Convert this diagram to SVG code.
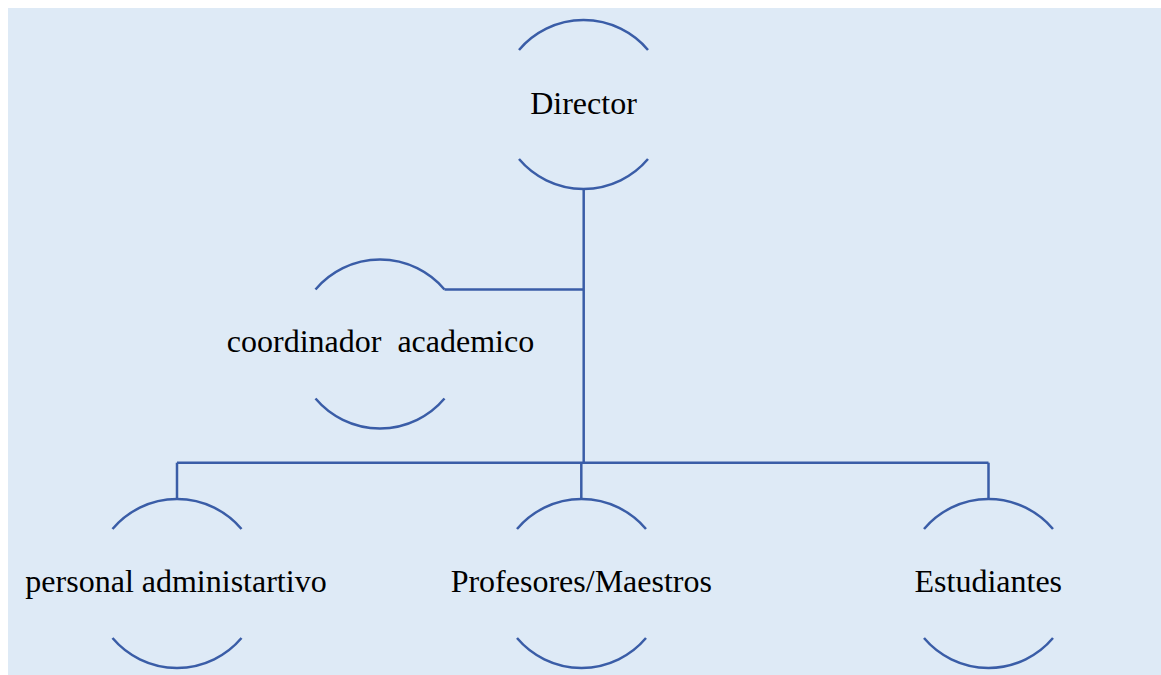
<svg xmlns="http://www.w3.org/2000/svg" width="1161" height="675" viewBox="0 0 1161 675">
<style>
.arc{fill:none;stroke:#3A5DA7;stroke-width:2.5}
.conn{fill:none;stroke:#3A5DA7;stroke-width:2.5}
.lbl{font-family:"Liberation Serif","Times New Roman",serif;font-size:32px;fill:#000;text-anchor:middle}
</style>
<rect x="8" y="8" width="1153" height="667" fill="#DEEAF6"/>
<g id="connectors">
<path class="conn" d="M583.7 189 V462.7"/>
<path class="conn" d="M444.5 289.5 H583.7"/>
<path class="conn" d="M177 462.7 H988.5"/>
<path class="conn" d="M177 462.7 V499"/>
<path class="conn" d="M581.3 462.7 V499"/>
<path class="conn" d="M988.5 462.7 V499"/>
</g>
<g id="director">
<path class="arc" d="M519 50 A84.5 84.5 0 0 1 648 50"/>
<path class="arc" d="M519 159 A84.5 84.5 0 0 0 648 159"/>
<text class="lbl" x="583.5" y="114">Director</text>
</g>
<g id="coordinador">
<path class="arc" d="M315.5 289.5 A84.5 84.5 0 0 1 444.5 289.5"/>
<path class="arc" d="M315.5 398.5 A84.5 84.5 0 0 0 444.5 398.5"/>
<text class="lbl" x="380.5" y="352" xml:space="preserve">coordinador  academico</text>
</g>
<g id="personal">
<path class="arc" d="M112.5 529 A84.5 84.5 0 0 1 241.5 529"/>
<path class="arc" d="M112.5 638 A84.5 84.5 0 0 0 241.5 638"/>
<text class="lbl" x="176" y="592">personal administartivo</text>
</g>
<g id="profesores">
<path class="arc" d="M517 529 A84.5 84.5 0 0 1 646 529"/>
<path class="arc" d="M517 638 A84.5 84.5 0 0 0 646 638"/>
<text class="lbl" x="581.3" y="592">Profesores/Maestros</text>
</g>
<g id="estudiantes">
<path class="arc" d="M924 529 A84.5 84.5 0 0 1 1053 529"/>
<path class="arc" d="M924 638 A84.5 84.5 0 0 0 1053 638"/>
<text class="lbl" x="988.3" y="592">Estudiantes</text>
</g>
</svg>
